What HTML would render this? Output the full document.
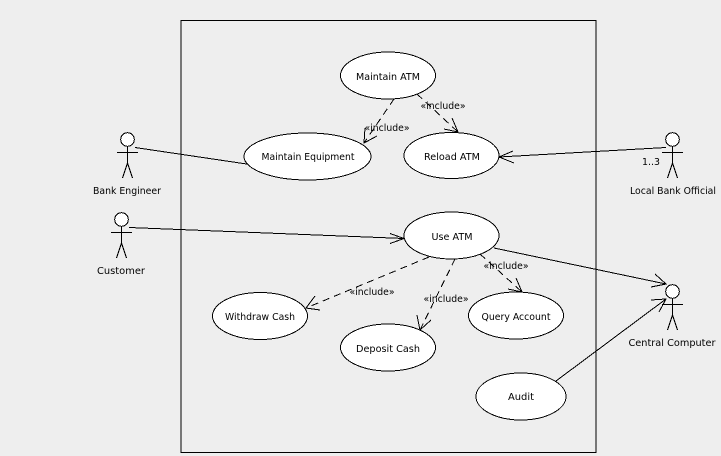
<!DOCTYPE html>
<html><head><meta charset="utf-8"><style>
html,body{margin:0;padding:0;background:#eeeeee;width:721px;height:456px;overflow:hidden}
svg{display:block}
text{font-family:"DejaVu Sans","Liberation Sans",sans-serif;font-size:9.5px;fill:#000;text-anchor:middle;dominant-baseline:alphabetic}
.s{fill:none;stroke:#000;stroke-width:1;shape-rendering:crispEdges}
.e{fill:#fff;stroke:#000;stroke-width:1;shape-rendering:crispEdges}
.d{stroke-dasharray:7 5}
</style></head><body>
<svg width="721" height="456" viewBox="0 0 721 456" xmlns="http://www.w3.org/2000/svg">
<rect x="181" y="20.5" width="415" height="432" class="s"/>

<line x1="135" y1="147.5" x2="250" y2="164.5" class="s"/>
<line x1="129" y1="227.5" x2="404" y2="238.5" class="s"/>
<polyline points="390,233.5 404,238.5 390,243.5" class="s"/>
<line x1="499" y1="157" x2="666" y2="147.5" class="s"/>
<polyline points="513,151 499,157 514,163" class="s"/>
<line x1="494" y1="248" x2="666" y2="284" class="s"/>
<polyline points="655,274 666,284 651,287" class="s"/>
<line x1="556" y1="381" x2="666" y2="299" class="s"/>
<polyline points="651,300 666,299 659,312" class="s"/>

<line x1="394" y1="99" x2="364" y2="143" class="s d"/>
<polyline points="365,128 364,143 377,136" class="s"/>
<line x1="417" y1="94" x2="458" y2="132" class="s d"/>
<polyline points="444,129 458,132 452,118" class="s"/>
<line x1="429" y1="257" x2="306" y2="308" class="s d"/>
<polyline points="315,296 306,308 320,310" class="s"/>
<line x1="455" y1="259" x2="420" y2="330" class="s d"/>
<polyline points="417,315 420,330 431,320" class="s"/>
<line x1="480" y1="254" x2="522" y2="292" class="s d"/>
<polyline points="508,289 522,292 516,278" class="s"/>

<ellipse cx="388" cy="75.5" rx="47.5" ry="23.5" class="e"/>
<ellipse cx="451.5" cy="155.5" rx="47.5" ry="23" class="e"/>
<ellipse cx="307.5" cy="156.5" rx="63.5" ry="23.5" class="e"/>
<ellipse cx="451.5" cy="235.5" rx="47.5" ry="23.5" class="e"/>
<ellipse cx="260" cy="316" rx="47.5" ry="23.5" class="e"/>
<ellipse cx="388" cy="347.5" rx="47.5" ry="23.5" class="e"/>
<ellipse cx="516" cy="315.5" rx="47.5" ry="23.5" class="e"/>
<ellipse cx="521" cy="396.5" rx="45" ry="23.5" class="e"/>

<g><circle cx="127.5" cy="139.5" r="6.8" class="e"/><path d="M127.5 146V163M117 152.5H138M127.5 163L122.5 178M127.5 163L132.5 178" class="s"/></g>
<g><circle cx="121.5" cy="219.5" r="6.8" class="e"/><path d="M121.5 226V243M111 232.5H132M121.5 243L116.5 258M121.5 243L126.5 258" class="s"/></g>
<g><circle cx="672.5" cy="139.5" r="6.8" class="e"/><path d="M672.5 146V163M662 152.5H683M672.5 163L667.5 178M672.5 163L677.5 178" class="s"/></g>
<g><circle cx="672.5" cy="291.5" r="6.8" class="e"/><path d="M672.5 298V315M662 304.5H683M672.5 315L667.5 330M672.5 315L677.5 330" class="s"/></g>

<text x="388" y="80" textLength="64" lengthAdjust="spacingAndGlyphs">Maintain ATM</text>
<text x="452" y="160" textLength="56" lengthAdjust="spacingAndGlyphs">Reload ATM</text>
<text x="308" y="160" textLength="93" lengthAdjust="spacingAndGlyphs">Maintain Equipment</text>
<text x="452" y="240" textLength="41" lengthAdjust="spacingAndGlyphs">Use ATM</text>
<text x="260" y="320" textLength="70" lengthAdjust="spacingAndGlyphs">Withdraw Cash</text>
<text x="388" y="352" textLength="64" lengthAdjust="spacingAndGlyphs">Deposit Cash</text>
<text x="516" y="320" textLength="69" lengthAdjust="spacingAndGlyphs">Query Account</text>
<text x="521" y="400" textLength="26" lengthAdjust="spacingAndGlyphs">Audit</text>

<text x="127" y="194" textLength="68" lengthAdjust="spacingAndGlyphs">Bank Engineer</text>
<text x="121" y="274" textLength="48" lengthAdjust="spacingAndGlyphs">Customer</text>
<text x="673" y="194" textLength="86" lengthAdjust="spacingAndGlyphs">Local Bank Official</text>
<text x="672" y="346" textLength="87" lengthAdjust="spacingAndGlyphs">Central Computer</text>
<text x="651" y="165" textLength="18" lengthAdjust="spacingAndGlyphs">1..3</text>

<text x="443" y="109" textLength="45" lengthAdjust="spacingAndGlyphs">«include»</text>
<text x="387" y="131" textLength="45" lengthAdjust="spacingAndGlyphs">«include»</text>
<text x="506" y="269" textLength="45" lengthAdjust="spacingAndGlyphs">«include»</text>
<text x="372" y="295" textLength="45" lengthAdjust="spacingAndGlyphs">«include»</text>
<text x="446" y="302" textLength="45" lengthAdjust="spacingAndGlyphs">«include»</text>
</svg>
</body></html>
